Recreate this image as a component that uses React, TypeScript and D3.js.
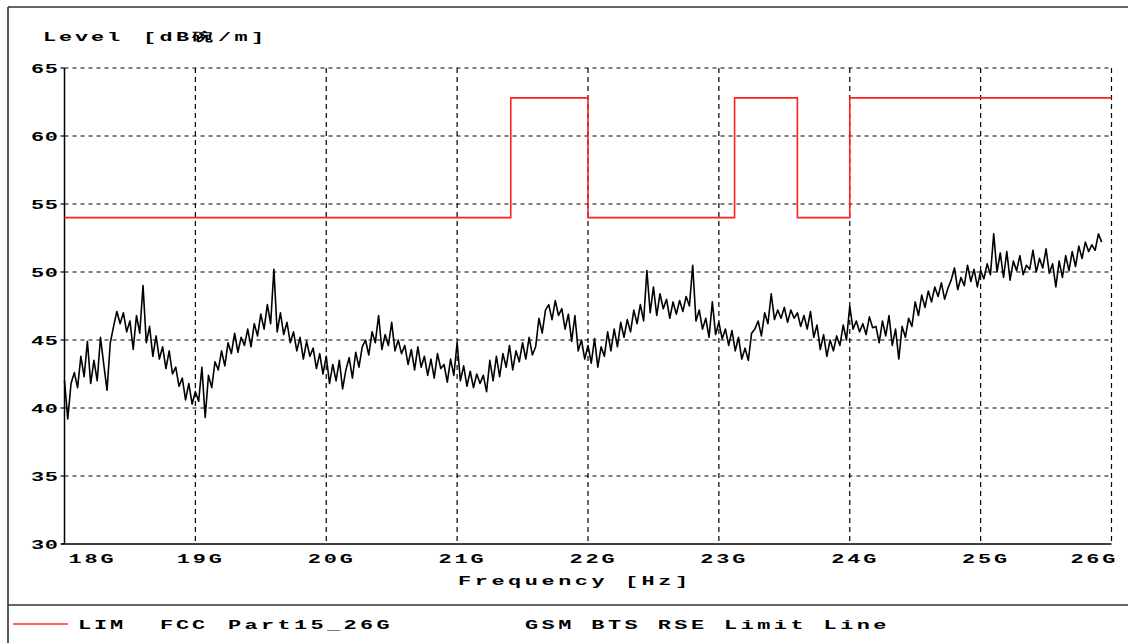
import React from "react";
import * as d3 from "d3";

const yTicks = [30, 35, 40, 45, 50, 55, 60, 65];
const xTicks = [18, 19, 20, 21, 22, 23, 24, 25, 26];
const xTickLabels = ["18G", "19G", "20G", "21G", "22G", "23G", "24G", "25G", "26G"];

// limit line (GHz, dB)
const limitFreq = [18, 21.41, 21.41, 22.0, 22.0, 23.12, 23.12, 23.6, 23.6, 24.0, 24.0, 26.0];
const limitLevel = [54, 54, 62.8, 62.8, 54, 54, 62.8, 62.8, 54, 54, 62.8, 62.8];

// measured trace, sweep start 18 GHz, 25 MHz step
const sweepStart = 18;
const sweepStep = 0.025;
const level = [
  42.0, 39.2, 41.8, 42.6, 41.5, 43.8, 42.3, 44.9, 41.8, 43.5, 42.0, 45.2,
  43.2, 41.3, 44.8, 46.0, 47.1, 46.2, 47.0, 45.6, 46.4, 44.3, 46.8, 45.5,
  49.0, 44.8, 46.0, 43.8, 45.3, 43.6, 44.5, 42.9, 44.2, 42.5, 43.0, 41.6,
  42.2, 40.6, 41.8, 40.3, 41.2, 40.5, 43.0, 39.3, 42.4, 41.5, 43.4, 42.8,
  44.2, 43.1, 44.8, 44.0, 45.5, 44.1, 45.2, 44.6, 45.8, 44.5, 46.2, 45.3,
  46.9, 45.8, 47.6, 46.2, 50.2, 45.6, 47.0, 45.4, 46.3, 44.8, 45.6, 44.2,
  45.2, 43.6, 44.9, 43.8, 44.4, 42.9, 44.0, 42.5, 43.8, 41.8, 43.2, 42.0,
  43.5, 41.4, 42.8, 43.7, 42.2, 44.1, 43.0, 44.5, 45.0, 43.9, 45.6, 44.8,
  46.8, 44.3, 45.4, 44.6, 46.3, 44.2, 45.0, 44.0, 44.6, 43.2, 44.3, 42.8,
  44.5, 43.0, 43.8, 42.4, 43.6, 42.2, 44.0, 42.9, 43.2, 41.9, 43.6, 42.4,
  44.8, 42.0, 43.1, 41.6, 42.7, 41.5, 42.5, 41.8, 42.4, 41.2, 43.5, 42.0,
  43.8, 42.3, 44.0, 43.0, 44.6, 42.8, 44.2, 43.4, 44.8, 43.6, 45.2, 43.9,
  44.5, 46.6, 45.5, 47.2, 47.6, 46.5, 47.9, 46.8, 47.3, 45.8, 46.9, 44.9,
  46.8, 44.2, 45.0, 43.6, 44.6, 43.3, 45.1, 43.0, 44.5, 43.8, 45.6, 44.2,
  45.8, 44.5, 46.3, 45.2, 46.5, 45.6, 47.2, 46.2, 47.6, 46.4, 50.1, 47.0,
  48.9, 46.8, 48.4, 47.3, 48.0, 46.6, 47.8, 46.9, 47.9, 47.1, 48.2, 47.5,
  50.5, 46.4, 47.2, 45.8, 46.6, 45.2, 47.8, 45.4, 46.3, 45.1, 45.8, 44.6,
  45.7, 44.2, 45.2, 43.6, 44.4, 43.5, 45.5, 45.8, 46.4, 45.3, 47.0, 46.2,
  48.4, 46.5, 47.2, 46.6, 47.4, 46.3, 47.2, 46.6, 47.0, 46.0, 46.8, 45.8,
  47.1, 45.2, 46.1, 44.3, 45.4, 43.8, 45.0, 44.2, 45.3, 44.6, 46.1, 45.0,
  47.5, 45.8, 46.4, 45.6, 46.2, 45.4, 46.7, 45.9, 46.0, 44.8, 46.4, 45.3,
  46.8, 44.6, 45.8, 43.6, 46.0, 45.2, 46.6, 46.0, 47.8, 46.8, 48.3, 47.4,
  48.6, 47.8, 48.9, 48.2, 49.2, 48.0, 48.8, 49.4, 50.3, 48.7, 49.6, 49.0,
  50.5, 49.3, 50.2, 48.9, 50.1, 49.5, 50.6, 49.8, 52.8, 50.0, 51.4, 49.6,
  51.5, 49.4, 50.8, 50.1, 51.2, 49.8, 50.5, 50.2, 51.6, 50.0, 51.0, 50.3,
  51.7, 49.9, 50.6, 48.9, 50.8, 49.6, 51.2, 50.1, 51.5, 50.4, 51.9, 51.0,
  52.2, 51.5, 52.0, 51.6, 52.8, 52.2,
];

const FONT = "'Liberation Mono', 'DejaVu Sans Mono', monospace";
const FS = 12.5;
const SX = 1.75;
const ADV = FS * 0.6;

function Txt({ x, y, text, pitch = 17, anchor = "start", fill = "#000" }: any) {
  const n = Array.from(text).length;
  const w = pitch * (n - 1) + ADV * SX;
  let x0 = x;
  if (anchor === "end") x0 = x - w;
  if (anchor === "middle") x0 = x - w / 2;
  const ls = pitch / SX - ADV;
  return (
    <text
      transform={`translate(${x0},${y}) scale(${SX},1)`}
      style={{ fontFamily: FONT, fontSize: FS, fontWeight: "bold", letterSpacing: ls, whiteSpace: "pre" }}
      fill={fill}
    >
      {text}
    </text>
  );
}

export default function App() {
  const W = 1128;
  const H = 643;
  const x = d3.scaleLinear().domain([18, 26]).range([64.5, 1111.5]);
  const y = d3.scaleLinear().domain([30, 65]).range([544, 68]);

  const trace = level.map((v, i) => [sweepStart + i * sweepStep, v] as [number, number]);
  const line = d3
    .line<[number, number]>()
    .x((d) => x(d[0]))
    .y((d) => y(d[1]));
  const limPts = limitFreq.map((f, i) => [f, limitLevel[i]] as [number, number]);

  return (
    <div style={{ position: "absolute", left: 0, top: 0 }}>
      <svg width={W} height={H} style={{ display: "block", background: "#fff" }}>
        {/* outer frame */}
        <line x1={8} y1={7} x2={W} y2={7} stroke="#333" strokeWidth={1.6} />
        <line x1={8} y1={7} x2={8} y2={H} stroke="#333" strokeWidth={1.6} />
        <line x1={8} y1={605} x2={W} y2={605} stroke="#333" strokeWidth={1.6} />

        {/* grid */}
        {yTicks.slice(1).map((t) => (
          <line key={"gy" + t} x1={x(18)} x2={x(26)} y1={y(t)} y2={y(t)} stroke="#000" strokeWidth={1.2} strokeDasharray="4,4" />
        ))}
        {xTicks.slice(1).map((t) => (
          <line key={"gx" + t} x1={x(t)} x2={x(t)} y1={y(65)} y2={y(30)} stroke="#000" strokeWidth={1.2} strokeDasharray="5,4" />
        ))}
        {/* axes */}
        <line x1={x(18)} x2={x(18)} y1={y(65)} y2={y(30)} stroke="#000" strokeWidth={1.5} />
        <line x1={x(18) - 3} x2={x(26)} y1={y(30)} y2={y(30)} stroke="#000" strokeWidth={1.5} />
        {yTicks.map((t) => (
          <line key={"ty" + t} x1={x(18) - 4} x2={x(18)} y1={y(t)} y2={y(t)} stroke="#000" strokeWidth={1.2} />
        ))}

        {/* y labels */}
        {yTicks.map((t) => (
          <Txt key={"ly" + t} x={58} y={y(t) + 4.5} text={String(t)} pitch={14} anchor="end" />
        ))}
        {/* x labels */}
        {xTicks.map((t, i) => {
          if (i === 0) return <Txt key={"lx" + t} x={x(t) + 4} y={563} text={xTickLabels[i]} pitch={16} />;
          if (i === xTicks.length - 1)
            return <Txt key={"lx" + t} x={x(t) + 4} y={563} text={xTickLabels[i]} pitch={16} anchor="end" />;
          return <Txt key={"lx" + t} x={x(t) + 4} y={563} text={xTickLabels[i]} pitch={16} anchor="middle" />;
        })}

        {/* titles */}
        <Txt x={43} y={41} text="Level" pitch={16} />
        <Txt x={143} y={41} text="[dB碗/m]" pitch={16.5} />
        <Txt x={458} y={585} text="Frequency [Hz]" pitch={16.7} />

        {/* limit line */}
        <path d={line(limPts) || ""} fill="none" stroke="#ff2020" strokeWidth={1.6} />
        {/* trace */}
        <path d={line(trace) || ""} fill="none" stroke="#000" strokeWidth={1.6} strokeLinejoin="round" />

        {/* legend */}
        <line x1={13} x2={68} y1={624} y2={624} stroke="#ff3030" strokeWidth={1.6} />
        <Txt x={78} y={629} text="LIM" pitch={16} />
        <Txt x={160} y={629} text="FCC" pitch={16} />
        <Txt x={228} y={629} text="Part15_26G" pitch={16.5} />
        <Txt x={525} y={629} text="GSM BTS RSE Limit Line" pitch={16.6} />
      </svg>
    </div>
  );
}
